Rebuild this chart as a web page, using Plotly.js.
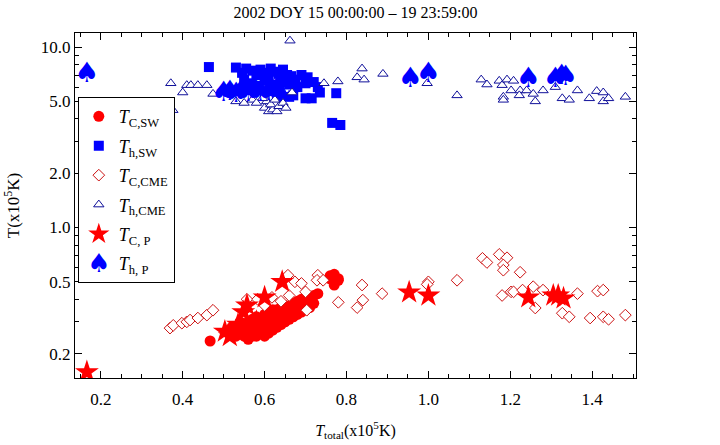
<!DOCTYPE html>
<html>
<head>
<meta charset="utf-8">
<script src="https://cdn.plot.ly/plotly-3.0.1.min.js"></script>
<style>
	body { margin: 0; background: #fff; }
	#chart { width: 720px; height: 445px; }
</style>
</head>
<body>
<div id="chart"></div>
<script>
// T_C,SW : solar wind core
const xCsw = [0.467, 0.52, 0.52, 0.53, 0.53, 0.54, 0.54, 0.54, 0.55, 0.55, 0.55, 0.56, 0.56, 0.56, 0.56, 0.57, 0.57, 0.57, 0.57, 0.58, 0.58, 0.58, 0.58, 0.59, 0.59, 0.59, 0.60, 0.60, 0.60, 0.60, 0.61, 0.61, 0.61, 0.61, 0.62, 0.62, 0.62, 0.62, 0.63, 0.63, 0.63, 0.63, 0.64, 0.64, 0.64, 0.64, 0.65, 0.65, 0.65, 0.65, 0.66, 0.66, 0.66, 0.67, 0.67, 0.67, 0.68, 0.68, 0.68, 0.69, 0.69, 0.69, 0.70, 0.70, 0.70, 0.71, 0.71, 0.72, 0.72, 0.73, 0.76, 0.76, 0.77, 0.77, 0.77, 0.78, 0.78];
const yCsw = [0.235, 0.26, 0.28, 0.27, 0.25, 0.26, 0.28, 0.30, 0.25, 0.27, 0.29, 0.24, 0.26, 0.28, 0.30, 0.25, 0.27, 0.29, 0.31, 0.25, 0.27, 0.30, 0.32, 0.26, 0.28, 0.31, 0.25, 0.27, 0.30, 0.33, 0.26, 0.28, 0.31, 0.34, 0.27, 0.29, 0.32, 0.35, 0.28, 0.30, 0.33, 0.35, 0.29, 0.31, 0.34, 0.36, 0.30, 0.32, 0.35, 0.37, 0.31, 0.33, 0.36, 0.32, 0.35, 0.38, 0.33, 0.36, 0.39, 0.34, 0.37, 0.40, 0.35, 0.38, 0.41, 0.36, 0.39, 0.38, 0.42, 0.43, 0.52, 0.54, 0.50, 0.55, 0.48, 0.52, 0.51];

// T_h,SW : solar wind halo
const xHsw = [0.464, 0.53, 0.555, 0.545, 0.57, 0.58, 0.59, 0.60, 0.61, 0.615, 0.625, 0.635, 0.645, 0.655, 0.665, 0.675, 0.55, 0.565, 0.58, 0.60, 0.62, 0.64, 0.66, 0.68, 0.70, 0.72, 0.73, 0.735, 0.70, 0.715, 0.775, 0.60, 0.62, 0.64, 0.66, 0.57, 0.765, 0.785, 0.69, 0.705, 0.63, 0.67];
const yHsw = [7.75, 7.7, 7.6, 7.2, 7.4, 7.0, 7.5, 7.2, 6.8, 7.6, 7.3, 7.1, 7.5, 7.0, 6.9, 6.6, 6.6, 6.3, 6.1, 6.5, 6.2, 6.4, 6.2, 6.0, 6.3, 6.4, 6.0, 5.6, 5.2, 5.2, 5.55, 5.6, 5.7, 5.4, 5.3, 5.8, 3.8, 3.7, 7.0, 6.8, 5.3, 5.4];

// T_C,CME
const xCcme = [0.369, 0.377, 0.398, 0.41, 0.418, 0.437, 0.459, 0.474, 0.557, 0.583, 0.618, 0.657, 0.674, 0.69, 0.66, 0.703, 0.73, 0.728, 0.743, 0.78, 0.826, 0.84, 0.838, 0.887, 0.60, 0.64, 0.70, 1.0, 0.997, 1.07, 1.132, 1.143, 1.173, 1.192, 1.183, 1.183, 1.224, 1.18, 1.202, 1.208, 1.23, 1.256, 1.28, 1.261, 1.327, 1.344, 1.364, 1.395, 1.413, 1.427, 1.427, 1.44, 1.481];
const yCcme = [0.277, 0.287, 0.295, 0.30, 0.307, 0.315, 0.327, 0.348, 0.40, 0.40, 0.41, 0.544, 0.50, 0.49, 0.42, 0.348, 0.544, 0.51, 0.51, 0.385, 0.36, 0.396, 0.48, 0.43, 0.37, 0.39, 0.44, 0.50, 0.484, 0.51, 0.675, 0.64, 0.71, 0.68, 0.62, 0.58, 0.565, 0.42, 0.44, 0.44, 0.45, 0.47, 0.45, 0.358, 0.335, 0.32, 0.43, 0.315, 0.444, 0.45, 0.32, 0.31, 0.327];

// T_h,CME
const xHcme = [0.662, 0.371, 0.40, 0.41, 0.42, 0.437, 0.459, 0.474, 0.376, 0.60, 0.61, 0.62, 0.63, 0.605, 0.615, 0.625, 0.635, 0.645, 0.595, 0.652, 0.53, 0.55, 0.57, 0.58, 0.667, 0.745, 0.779, 0.838, 0.826, 0.843, 0.889, 0.997, 1.07, 1.129, 1.143, 1.173, 1.18, 1.192, 1.208, 1.202, 1.183, 1.183, 1.224, 1.222, 1.24, 1.256, 1.261, 1.28, 1.31, 1.327, 1.344, 1.364, 1.393, 1.411, 1.427, 1.427, 1.44, 1.481];
const yHcme = [10.85, 6.3, 5.6, 6.15, 6.15, 6.15, 6.15, 5.5, 4.47, 4.6, 4.4, 4.5, 4.4, 5.0, 4.8, 5.1, 4.7, 4.9, 5.2, 4.6, 5.0, 4.9, 5.1, 4.9, 5.6, 6.3, 6.45, 7.6, 6.8, 6.6, 7.1, 6.3, 5.4, 6.6, 6.2, 6.5, 6.15, 6.6, 6.5, 5.75, 5.3, 5.1, 5.75, 5.4, 5.75, 5.5, 5.0, 5.75, 6.0, 5.2, 5.1, 5.75, 5.2, 5.7, 5.6, 5.0, 5.2, 5.3];

// T_C,P
const xCp = [0.166, 0.503, 0.515, 0.535, 0.548, 0.557, 0.58, 0.60, 0.643, 0.953, 1.0, 1.244, 1.305, 1.317, 1.33];
const yCp = [0.158, 0.265, 0.25, 0.29, 0.34, 0.37, 0.30, 0.41, 0.50, 0.437, 0.42, 0.41, 0.42, 0.42, 0.405];

// T_h,P
const xHp = [0.166, 0.50, 0.515, 0.53, 0.545, 0.56, 0.575, 0.59, 0.61, 0.63, 0.956, 1.0, 1.244, 1.31, 1.325, 1.335];
const yHp = [6.97, 5.5, 5.6, 5.4, 5.7, 5.5, 5.8, 5.5, 5.6, 5.8, 6.54, 6.97, 6.54, 6.6, 6.8, 6.7];

const yTickVals = [0.2, 0.5, 1, 2, 5, 10];
const yTickText = ["0.2", "0.5", "1.0", "2.0", "5.0", "10.0"];
const yMinorVals = [0.3, 0.4, 0.6, 0.7, 0.8, 0.9, 3, 4, 6, 7, 8, 9];

const SERIF = "Liberation Serif, Times New Roman, serif";
const SPADE = "\u2660";

const marker_trace = (x, y, name, marker) => ({
	type: "scatter",
	mode: "markers",
	x: x,
	y: y,
	name: name,
	legendgroup: name,
	marker: marker,
	hoverinfo: "skip",
});

const traces = [
	marker_trace(xCsw, yCsw, "<i>T</i><sub>C,SW</sub>", { symbol: "circle", size: 11, color: "#ff0000" }),
	marker_trace(xHsw, yHsw, "<i>T</i><sub>h,SW</sub>", { symbol: "square", size: 10, color: "#0000ff" }),
	marker_trace(xCcme, yCcme, "<i>T</i><sub>C,CME</sub>", { symbol: "diamond", size: 9, color: "#ffffff", line: { color: "#cc1111", width: 1 } }),
	marker_trace(xHcme, yHcme, "<i>T</i><sub>h,CME</sub>", { symbol: "triangle-up", size: 9, color: "#ffffff", line: { color: "#10109a", width: 1 } }),
	marker_trace(xCp, yCp, "<i>T</i><sub>C, P</sub>", { symbol: "star", size: 18, color: "#ff0000" }),
	{
		type: "scatter",
		mode: "text",
		x: xHp,
		y: yHp,
		text: xHp.map(() => SPADE),
		textposition: "middle center",
		textfont: { family: "DejaVu Sans", size: 28, color: "#0000ff" },
		name: "<i>T</i><sub>h, P</sub>",
		legendgroup: "hp",
		hoverinfo: "skip",
	},
];

const layout = {
	width: 720,
	height: 445,
	margin: { l: 75, r: 84, t: 33, b: 67 },
	paper_bgcolor: "#ffffff",
	plot_bgcolor: "#ffffff",
	font: { family: SERIF, size: 17, color: "#000000" },
	showlegend: true,
	title: {
		text: "2002 DOY 15 00:00:00 \u2013 19 23:59:00",
		font: { family: SERIF, size: 16, color: "#000000" },
		x: 0.5,
		xref: "paper",
		y: 0.973,
		yref: "container",
		yanchor: "middle",
	},
	xaxis: {
		range: [0.137, 1.507],
		tickmode: "linear",
		tick0: 0.2,
		dtick: 0.2,
		tickformat: ".1f",
		tickfont: { family: SERIF, size: 17 },
		ticks: "inside",
		ticklen: 7,
		tickcolor: "#000",
		ticklabelstandoff: 6,
		showline: true,
		linecolor: "#000",
		linewidth: 1,
		mirror: "allticks",
		showgrid: false,
		zeroline: false,
		minor: { dtick: 0.05, ticks: "inside", ticklen: 4, tickcolor: "#000", showgrid: false },
		title: { text: "<i>T</i><sub>total</sub>(x10<sup>5</sup>K)", font: { family: SERIF, size: 16 }, standoff: 16 },
	},
	yaxis: {
		type: "log",
		range: [-0.834, 1.078],
		tickmode: "array",
		tickvals: yTickVals,
		ticktext: yTickText,
		tickfont: { family: SERIF, size: 17 },
		ticks: "inside",
		ticklen: 7,
		tickcolor: "#000",
		showline: true,
		linecolor: "#000",
		linewidth: 1,
		mirror: "allticks",
		showgrid: false,
		zeroline: false,
		minor: { tickmode: "array", tickvals: yMinorVals, ticks: "inside", ticklen: 4, tickcolor: "#000", showgrid: false },
		title: { text: "T(x10<sup>5</sup>K)", font: { family: SERIF, size: 17 }, standoff: 16 },
	},
	legend: {
		x: 0.005,
		y: 0.814,
		xanchor: "left",
		yanchor: "top",
		bgcolor: "#ffffff",
		bordercolor: "#000000",
		borderwidth: 1,
		traceorder: "grouped",
		tracegroupgap: 3,
		font: { family: SERIF, size: 18, color: "#000000" },
	},
};

// the legend only knows "Aa" for text traces, swap in the spade glyph
const fix_spade_legend = () => {
	const items = document.querySelectorAll(".legend .traces");
	const last = items[items.length - 1];
	if (!last) return;
	const txt = last.querySelector(".pointtext text");
	if (!txt) return;
	txt.textContent = SPADE;
	txt.style.fontSize = "26px";
	txt.style.fontFamily = "DejaVu Sans";
	txt.parentNode.setAttribute("transform", "translate(0,9)");
};

Plotly.newPlot("chart", traces, layout, { staticPlot: true }).then(fix_spade_legend);
</script>
</body>
</html>
